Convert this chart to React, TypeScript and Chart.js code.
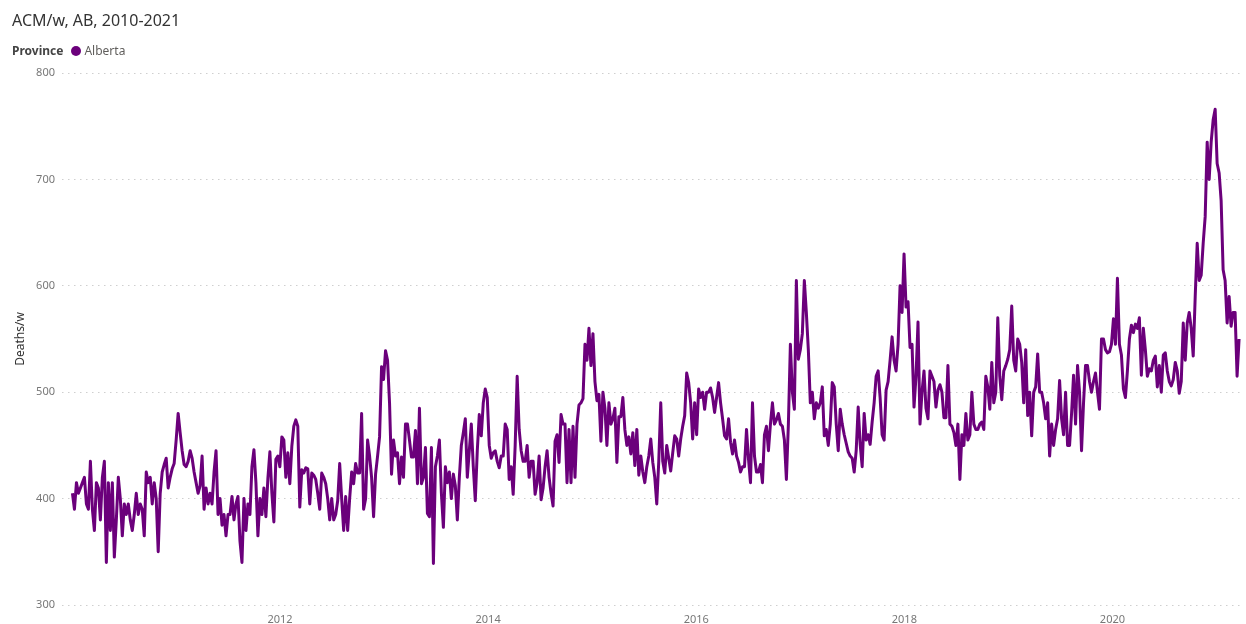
import React, { useEffect, useRef } from "react";
import { Chart, registerables } from "chart.js";

Chart.register(...registerables);

// Weekly all-cause deaths, Alberta
const weeks2010 = [
  405, 390, 415, 405, 410, 415, 420, 395, 390, 435,
  390, 370, 415, 410, 380, 420, 435, 340, 415, 370,
  415, 345, 380, 420, 400, 365, 395, 385, 395, 380,
  370, 385, 405, 385, 395, 390, 365, 425, 415, 420,
  395, 415, 400, 350, 405, 425, 432, 438, 410, 420, 428, 433,
];
const weeks2011 = [
  455, 480, 462, 445, 432, 430,
  435, 445, 438, 425, 415, 405, 412, 440, 390, 410,
  395, 405, 395, 425, 445, 385, 400, 375, 385, 365,
  385, 385, 402, 380, 395, 402, 360, 340, 400, 370,
  395, 385, 430, 446, 415, 365, 400, 385, 410,
  383, 419, 444, 405, 378, 437, 440,
];
const weeks2012 = [
  430, 458, 455, 420, 443, 414, 449, 468, 474, 468,
  392, 427, 424, 429, 428, 395, 424, 422, 418, 405,
  390, 424, 420, 414, 400, 380, 400, 380, 385, 398,
  433, 400, 370, 402, 370, 400, 425, 414, 433, 424, 424,
  480, 390, 400, 455, 440, 420, 383, 423, 440, 458, 524,
];
const weeks2013 = [
  512, 539, 530, 490, 423, 455, 440, 443, 414, 439,
  420, 470, 470, 455, 439, 439, 464, 414, 485, 414,
  420, 448, 386, 383, 448, 339, 430, 440, 455, 405,
  373, 430, 415, 425, 400, 423, 412, 380, 420, 450,
  462, 475, 420, 445, 470, 430, 398, 445, 479, 459, 490, 503,
];
const weeks2014 = [
  495, 450, 438, 443, 445, 435, 429, 440, 440, 470,
  465, 418, 430, 404, 450, 515, 465, 445, 435, 435,
  450, 420, 435, 435, 404, 415, 440, 399, 410, 430,
  445, 420, 405, 393, 454, 460, 434, 479, 470, 470,
  415, 465, 415, 468, 420, 470, 488, 490, 494, 545, 530, 560,
];
const weeks2015 = [
  525, 555, 510, 492, 498, 454, 500, 485, 450, 490,
  470, 475, 485, 434, 477, 477, 495, 465, 450, 458,
  442, 462, 431, 465, 422, 440, 425, 415, 430, 440, 456, 434,
  420, 395, 435, 490, 435, 424, 450, 438, 426, 443,
  459, 456, 440, 456, 468, 478, 518, 509, 490, 456,
];
const weeks2016 = [
  490, 460, 503, 495, 500, 484, 500, 500, 504, 495,
  481, 495, 509, 490, 475, 459, 456, 475, 453, 442,
  455, 440, 434, 425, 430, 430, 465, 437, 415, 490,
  440, 425, 425, 432, 415, 460, 468, 445, 470, 490,
  470, 474, 480, 470, 468, 455, 418, 470, 545, 500, 484, 605,
];
const weeks2017 = [
  531, 540, 555, 605, 575, 540, 490, 500, 475, 490,
  485, 490, 505, 459, 465, 450, 470, 509, 505, 470,
  445, 484, 470, 460, 452, 444, 440, 438, 425, 445,
  486, 451, 430, 480, 455, 460, 451, 472, 490, 515,
  520, 495, 460, 455, 502, 510, 530, 552, 530, 520, 545, 600,
];
const weeks2018 = [
  575, 630, 580, 585, 542, 545, 486, 515, 566, 470,
  500, 520, 485, 475, 520, 515, 510, 486, 502, 507,
  500, 476, 476, 525, 470, 468, 462, 450, 470, 418,
  460, 450, 480, 455, 460, 500, 470, 465, 465, 470,
  472, 465, 515, 505, 484, 528, 490, 500, 570, 515, 493, 520,
];
const weeks2019 = [
  525, 531, 540, 581, 530, 520, 550, 545, 528, 490,
  540, 478, 500, 459, 500, 505, 536, 500, 500, 490,
  475, 490, 440, 470, 450, 465, 475, 511, 475, 460,
  500, 450, 450, 480, 516, 470, 525, 500, 445, 490,
  525, 525, 510, 500, 510, 518, 500, 484, 550, 550, 540, 537,
];
const weeks2020 = [
  538, 545, 569, 545, 607, 545, 535, 503, 495, 520,
  550, 563, 556, 564, 560, 570, 516, 560, 540, 515,
  522, 520, 530, 534, 505, 525, 500, 535, 537, 520,
  510, 506, 512, 528, 520, 499, 510, 565, 530, 565,
  575, 560, 534, 590, 640, 605, 610, 640, 665, 735, 700, 735,
];
const weeks2021 = [756, 766, 715, 706, 680, 615, 605, 565, 590, 562, 575, 575, 515, 550];

const yTicks = [300, 400, 500, 600, 700, 800];
const xTickYears = [2012, 2014, 2016, 2018, 2020];
const chartTitle = "ACM/w, AB, 2010-2021";
const legendTitle = "Province";
const seriesLabel = "Alberta";
const yAxisTitle = "Deaths/w";
const firstWeekYear = 2010 + 2 / 365.25;
const weekInYears = 7 / 365.25;

const PURPLE = "#6B007B";
const FONT = "'Segoe UI', 'Noto Sans', sans-serif";

export default function App() {
  const ref = useRef<HTMLCanvasElement>(null);

  useEffect(() => {
    document.body.style.margin = "0";
    const values = [
      ...weeks2010, ...weeks2011, ...weeks2012, ...weeks2013, ...weeks2014, ...weeks2015,
      ...weeks2016, ...weeks2017, ...weeks2018, ...weeks2019, ...weeks2020, ...weeks2021,
    ];
    const data = values.map((v, i) => ({ x: firstWeekYear + i * weekInYears, y: v }));
    const chart = new Chart(ref.current as HTMLCanvasElement, {
      type: "line",
      data: {
        datasets: [
          {
            label: seriesLabel,
            data,
            borderColor: PURPLE,
            backgroundColor: PURPLE,
            borderWidth: 3,
            pointRadius: 0,
            tension: 0,
            fill: false,
            borderJoinStyle: "round",
          },
        ],
      },
      options: {
        animation: false,
        responsive: false,
        layout: { padding: { top: 73, right: 4, left: 0, bottom: 0 } },
        plugins: {
          legend: { display: false },
          title: { display: false },
          tooltip: { enabled: false },
        },
        scales: {
          x: {
            type: "linear",
            min: 2009.905,
            max: 2021.245,
            afterBuildTicks: (s: any) => {
              s.ticks = xTickYears.map((v) => ({ value: v }));
            },
            afterFit: (s: any) => {
              s.height = 19;
            },
            grid: { display: false },
            border: { display: false },
            ticks: {
              color: "#777",
              font: { family: FONT, size: 11 },
              padding: 0,
              maxRotation: 0,
              autoSkip: false,
              callback: (v: any) => String(v),
            },
          },
          y: {
            min: 300,
            max: 800,
            afterBuildTicks: (s: any) => {
              s.ticks = yTicks.map((v) => ({ value: v }));
            },
            afterFit: (s: any) => {
              s.width = 62;
            },
            grid: { color: "#cfcfcf", drawTicks: false, lineWidth: 1 },
            border: { display: false, dash: [1.5, 4.5] },
            ticks: {
              color: "#777",
              font: { family: FONT, size: 11 },
              padding: 7,
            },
            title: {
              display: true,
              text: yAxisTitle,
              color: "#333",
              font: { family: FONT, size: 12 },
              padding: { top: 13, bottom: 0 },
            },
          },
        },
      },
    });
    return () => chart.destroy();
  }, []);

  return (
    <div style={{ position: "absolute", left: 0, top: 0, width: 1246, height: 624, background: "#fff" }}>
      <canvas ref={ref} width={1246} height={624} style={{ position: "absolute", left: 0, top: 0 }} />
      <div
        style={{
          position: "absolute",
          left: 12,
          top: 8,
          fontFamily: FONT,
          fontSize: 16,
          lineHeight: "24px",
          color: "#333",
          whiteSpace: "nowrap",
        }}
      >
        {chartTitle}
      </div>
      <div
        style={{
          position: "absolute",
          left: 12,
          top: 43,
          fontFamily: FONT,
          fontSize: 12,
          lineHeight: "16px",
          display: "flex",
          alignItems: "center",
          whiteSpace: "nowrap",
        }}
      >
        <span style={{ fontWeight: 700, color: "#444" }}>{legendTitle}</span>
        <span
          style={{
            display: "inline-block",
            width: 10,
            height: 10,
            borderRadius: 5,
            background: PURPLE,
            marginLeft: 8,
            marginRight: 3,
          }}
        />
        <span style={{ color: "#605E5C" }}>{seriesLabel}</span>
      </div>
    </div>
  );
}
